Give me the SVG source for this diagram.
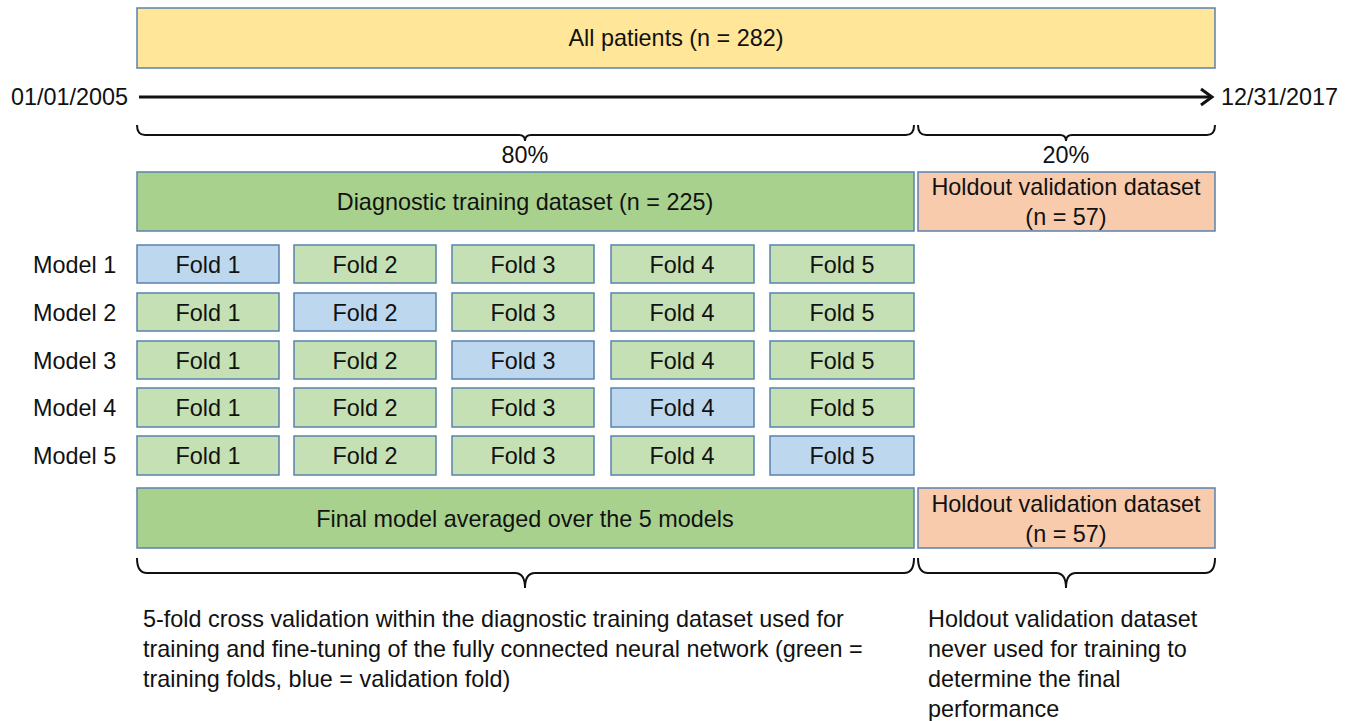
<svg xmlns="http://www.w3.org/2000/svg" width="1355" height="721" viewBox="0 0 1355 721">
<style>
  text { font-family: "Liberation Sans", Arial, sans-serif; font-size: 23.4px; fill: #111; }
  .c { text-anchor: middle; }
  .box { stroke: #5A82AE; stroke-width: 1.5; }
  .yel { fill: #FFE699; }
  .dg { fill: #A9D18E; }
  .lg { fill: #C5E0B4; }
  .bl { fill: #BDD7EE; }
  .or { fill: #F8CBAD; }
  .brace { fill: none; stroke: #111; stroke-width: 2; }
</style>
<rect width="1355" height="721" fill="#fff"/>

<g id="all-patients">
  <rect class="box yel" x="137" y="8" width="1078" height="60"/>
  <text class="c" x="676" y="46">All patients (n = 282)</text>
</g>

<g id="timeline">
  <line x1="139" y1="97" x2="1210" y2="97" stroke="#111" stroke-width="3"/>
  <polyline points="1201,89 1212,97 1201,105" fill="none" stroke="#111" stroke-width="3"/>
  <text x="128" y="105" text-anchor="end">01/01/2005</text>
  <text x="1221" y="105">12/31/2017</text>
</g>

<g id="braces">
  <path class="brace" d="M137,125 Q137,135 145,135 L519,135 Q525,135 525,141 Q525,135 531,135 L906,135 Q914,135 914,125"/>
  <path class="brace" d="M918,125 Q918,135 926,135 L1060,135 Q1066,135 1066,141 Q1066,135 1072,135 L1207,135 Q1215,135 1215,125"/>
  <text class="c" x="525" y="163">80%</text>
  <text class="c" x="1066" y="163">20%</text>
  <path class="brace" d="M137,558 Q137,573 147,573 L515,573 Q525,573 525,588 Q525,573 535,573 L904,573 Q914,573 914,558"/>
  <path class="brace" d="M918,558 Q918,573 928,573 L1056,573 Q1066,573 1066,588 Q1066,573 1076,573 L1205,573 Q1215,573 1215,558"/>
</g>

<g id="diagnostic-training">
  <rect class="box dg" x="137" y="172" width="777" height="59"/>
  <text class="c" x="525" y="210">Diagnostic training dataset (n = 225)</text>
</g>

<g id="holdout-top">
  <rect class="box or" x="918" y="172" width="297" height="59"/>
  <text class="c" x="1066" y="195">Holdout validation dataset</text>
  <text class="c" x="1066" y="225">(n = 57)</text>
</g>

<g id="model-labels">
  <text x="33" y="273">Model 1</text>
  <text x="33" y="321">Model 2</text>
  <text x="33" y="369">Model 3</text>
  <text x="33" y="416">Model 4</text>
  <text x="33" y="464">Model 5</text>
</g>

<g id="model1">
  <rect class="box bl" x="137" y="245" width="142" height="38"/><text class="c" x="208" y="273">Fold 1</text>
  <rect class="box lg" x="294" y="245" width="142" height="38"/><text class="c" x="365" y="273">Fold 2</text>
  <rect class="box lg" x="452" y="245" width="142" height="38"/><text class="c" x="523" y="273">Fold 3</text>
  <rect class="box lg" x="611" y="245" width="143" height="38"/><text class="c" x="682" y="273">Fold 4</text>
  <rect class="box lg" x="770" y="245" width="144" height="38"/><text class="c" x="842" y="273">Fold 5</text>
</g>
<g id="model2">
  <rect class="box lg" x="137" y="293" width="142" height="38"/><text class="c" x="208" y="321">Fold 1</text>
  <rect class="box bl" x="294" y="293" width="142" height="38"/><text class="c" x="365" y="321">Fold 2</text>
  <rect class="box lg" x="452" y="293" width="142" height="38"/><text class="c" x="523" y="321">Fold 3</text>
  <rect class="box lg" x="611" y="293" width="143" height="38"/><text class="c" x="682" y="321">Fold 4</text>
  <rect class="box lg" x="770" y="293" width="144" height="38"/><text class="c" x="842" y="321">Fold 5</text>
</g>
<g id="model3">
  <rect class="box lg" x="137" y="341" width="142" height="38"/><text class="c" x="208" y="369">Fold 1</text>
  <rect class="box lg" x="294" y="341" width="142" height="38"/><text class="c" x="365" y="369">Fold 2</text>
  <rect class="box bl" x="452" y="341" width="142" height="38"/><text class="c" x="523" y="369">Fold 3</text>
  <rect class="box lg" x="611" y="341" width="143" height="38"/><text class="c" x="682" y="369">Fold 4</text>
  <rect class="box lg" x="770" y="341" width="144" height="38"/><text class="c" x="842" y="369">Fold 5</text>
</g>
<g id="model4">
  <rect class="box lg" x="137" y="388" width="142" height="39"/><text class="c" x="208" y="416">Fold 1</text>
  <rect class="box lg" x="294" y="388" width="142" height="39"/><text class="c" x="365" y="416">Fold 2</text>
  <rect class="box lg" x="452" y="388" width="142" height="39"/><text class="c" x="523" y="416">Fold 3</text>
  <rect class="box bl" x="611" y="388" width="143" height="39"/><text class="c" x="682" y="416">Fold 4</text>
  <rect class="box lg" x="770" y="388" width="144" height="39"/><text class="c" x="842" y="416">Fold 5</text>
</g>
<g id="model5">
  <rect class="box lg" x="137" y="436" width="142" height="39"/><text class="c" x="208" y="464">Fold 1</text>
  <rect class="box lg" x="294" y="436" width="142" height="39"/><text class="c" x="365" y="464">Fold 2</text>
  <rect class="box lg" x="452" y="436" width="142" height="39"/><text class="c" x="523" y="464">Fold 3</text>
  <rect class="box lg" x="611" y="436" width="143" height="39"/><text class="c" x="682" y="464">Fold 4</text>
  <rect class="box bl" x="770" y="436" width="144" height="39"/><text class="c" x="842" y="464">Fold 5</text>
</g>

<g id="final-model">
  <rect class="box dg" x="137" y="488" width="777" height="60"/>
  <text class="c" x="525" y="527">Final model averaged over the 5 models</text>
</g>

<g id="holdout-bottom">
  <rect class="box or" x="918" y="488" width="297" height="60"/>
  <text class="c" x="1066" y="512">Holdout validation dataset</text>
  <text class="c" x="1066" y="542">(n = 57)</text>
</g>

<g id="caption-left">
  <text x="143" y="627">5-fold cross validation within the diagnostic training dataset used for</text>
  <text x="143" y="657">training and fine-tuning of the fully connected neural network (green =</text>
  <text x="143" y="687">training folds, blue = validation fold)</text>
</g>

<g id="caption-right">
  <text x="928" y="627">Holdout validation dataset</text>
  <text x="928" y="657">never used for training to</text>
  <text x="928" y="687">determine the final</text>
  <text x="928" y="717">performance</text>
</g>
</svg>
